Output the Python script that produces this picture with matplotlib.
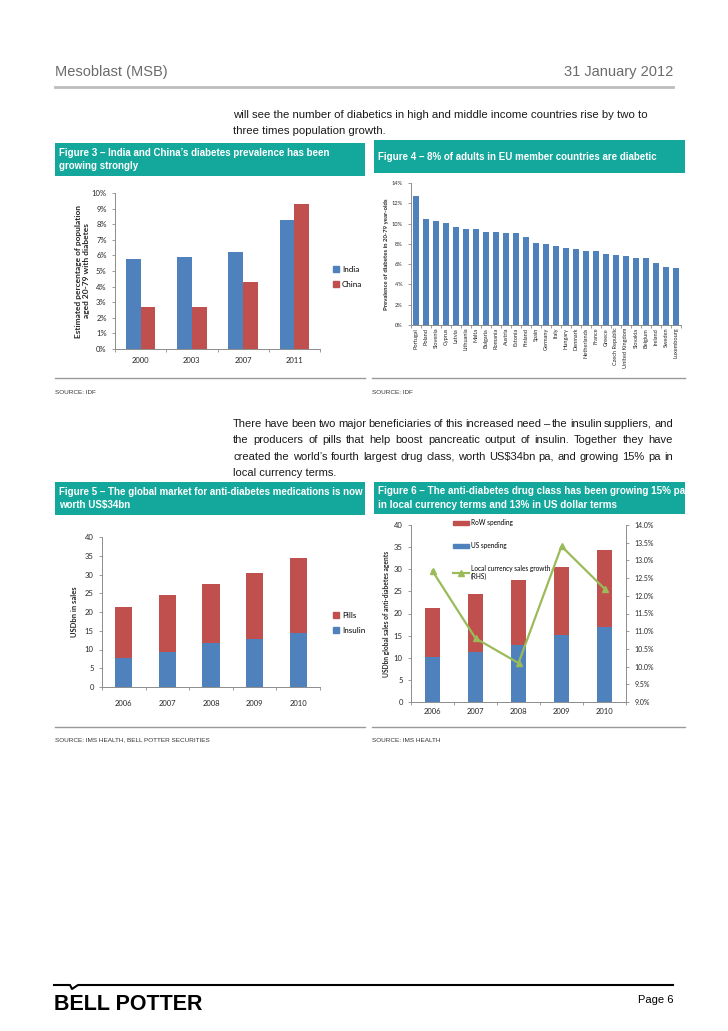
import numpy as np
import matplotlib.pyplot as plt
from matplotlib.patches import Rectangle, Patch
from matplotlib.lines import Line2D

W, H = 728, 1031

# Figure 3 - India / China prevalence (%)
F3_YEARS = ["2000", "2003", "2007", "2011"]
F3_INDIA = [5.8, 5.9, 6.2, 8.3]
F3_CHINA = [2.7, 2.7, 4.3, 9.3]

# Figure 4 - EU prevalence (%)
F4_COUNTRIES = ["Portugal", "Poland", "Slovenia", "Cyprus", "Latvia", "Lithuania", "Malta",
                "Bulgaria", "Romania", "Austria", "Estonia", "Finland", "Spain", "Germany",
                "Italy", "Hungary", "Denmark", "Netherlands", "France", "Greece",
                "Czech Republic", "United Kingdom", "Slovakia", "Belgium", "Ireland",
                "Sweden", "Luxembourg"]
F4_PREV = [12.7, 10.5, 10.3, 10.1, 9.7, 9.5, 9.5, 9.2, 9.2, 9.1, 9.1, 8.7, 8.1, 8.0,
           7.8, 7.6, 7.5, 7.3, 7.3, 7.0, 6.9, 6.8, 6.6, 6.6, 6.1, 5.7, 5.6]

# Figure 5 - global market (USDbn)
F5_YEARS = ["2006", "2007", "2008", "2009", "2010"]
F5_INSULIN = [7.8, 9.4, 11.8, 12.9, 14.4]
F5_PILLS = [13.5, 15.1, 15.8, 17.5, 20.0]

# Figure 6 - US vs RoW spending (USDbn) and growth (%)
F6_YEARS = ["2006", "2007", "2008", "2009", "2010"]
F6_US = [10.1, 11.3, 12.9, 15.1, 16.9]
F6_ROW = [11.2, 13.1, 14.7, 15.3, 17.5]
F6_GROWTH = [12.7, 10.8, 10.1, 13.4, 12.2]

BLUE = "#4F81BD"
RED = "#C0504D"
GREEN = "#9BBB59"
TEAL = "#14A89C"
AXIS_GREY = "#8C8C8C"
TEXT = "#262626"
CHART_FONT = ["Lato", "DejaVu Sans"]

plt.rcParams["font.family"] = ["Liberation Sans", "DejaVu Sans"]

fig = plt.figure(figsize=(W / 100, H / 100), dpi=100)
renderer = fig.canvas.get_renderer()

# full-page overlay, 1 data unit = 1 pixel
page = fig.add_axes([0, 0, 1, 1])
page.set_xlim(0, W)
page.set_ylim(H, 0)
page.axis("off")


def px_axes(x0, y0, x1, y1):
    return fig.add_axes([x0 / W, 1 - y1 / H, (x1 - x0) / W, (y1 - y0) / H])


def style_axes(ax, n_cats, xpad=4):
    for s in ["top", "right"]:
        ax.spines[s].set_visible(False)
    for s in ["left", "bottom"]:
        ax.spines[s].set_color(AXIS_GREY)
        ax.spines[s].set_linewidth(0.7)
    ax.patch.set_alpha(0)
    ax.tick_params(axis="both", which="both", colors=AXIS_GREY, labelcolor=TEXT,
                   labelsize=5.5, width=0.6, length=2.5)
    ax.tick_params(axis="x", which="major", length=0, pad=xpad)
    ax.set_xticks(np.arange(n_cats + 1) - 0.5, minor=True)
    ax.set_xlim(-0.5, n_cats - 0.5)
    for lab in ax.get_yticklabels() + ax.get_xticklabels():
        lab.set_family(CHART_FONT)


def fig_header(x0, y0, x1, y1, text, target_w):
    page.add_patch(Rectangle((x0, y0), x1 - x0, y1 - y0, color=TEAL, lw=0))
    t = page.text(x0 + 4, (y0 + y1) / 2, text, color="white", fontsize=7.3, fontweight="bold",
                  va="center", ha="left", linespacing=1.45)
    w = t.get_window_extent(renderer).width
    t.set_fontsize(7.3 * target_w / w)


def justify_line(y, line, x0, x1, **kw):
    words = line.split()
    texts = [page.text(x0, y, w, **kw) for w in words]
    widths = [t.get_window_extent(renderer).width for t in texts]
    gap = (x1 - x0 - sum(widths)) / (len(words) - 1)
    x = x0
    for t, w in zip(texts, widths):
        t.set_x(x)
        x += w + gap


# ---- page header ----
page.text(55, 72, "Mesoblast (MSB)", fontsize=10.5, color="#6b6b6b", va="center")
page.text(673, 72, "31 January 2012", fontsize=10.5, color="#6b6b6b", va="center", ha="right")
page.plot([55, 673], [87, 87], color="#bdbdbd", lw=2)

body = dict(fontsize=8.2, color="#1a1a1a", va="center", ha="left")
page.text(233, 115, "will see the number of diabetics in high and middle income countries rise by two to", **body)
page.text(233, 131, "three times population growth.", **body)

para2 = ["There have been two major beneficiaries of this increased need \u2013 the insulin suppliers, and",
         "the producers of pills that help boost pancreatic output of insulin. Together they have",
         "created the world\u2019s fourth largest drug class, worth US$34bn pa, and growing 15% pa in",
         "local currency terms."]
body2 = dict(body, fontsize=8.0)
for i, line in enumerate(para2):
    y = 424 + i * 16.3
    if i < len(para2) - 1:
        justify_line(y, line, 233, 673, **body2)
    else:
        page.text(233, y, line, **body2)

# ---- figure headers ----
fig_header(55, 143, 365, 176, "Figure 3 \u2013 India and China\u2019s diabetes prevalence has been\ngrowing strongly", 272)
fig_header(374, 140, 685, 173, "Figure 4 \u2013 8% of adults in EU member countries are diabetic", 278)
fig_header(55, 482, 365, 515, "Figure 5 \u2013 The global market for anti-diabetes medications is now\nworth US$34bn", 304)
fig_header(374, 482, 685, 514, "Figure 6 \u2013 The anti-diabetes drug class has been growing 15% pa\nin local currency terms and 13% in US dollar terms", 306)

# separators and sources
for y in [378, 727]:
    page.plot([55, 365], [y, y], color="#9a9a9a", lw=1)
    page.plot([372, 685], [y, y], color="#9a9a9a", lw=1)
src = dict(fontsize=4.6, color="#333333", va="center", ha="left",
           family=["Liberation Sans Narrow", "Liberation Sans"])
page.text(55, 392, "SOURCE: IDF", **src)
page.text(372, 392, "SOURCE: IDF", **src)
page.text(55, 740, "SOURCE: IMS HEALTH, BELL POTTER SECURITIES", **src)
page.text(372, 740, "SOURCE: IMS HEALTH", **src)

# ---- footer ----
page.plot([54, 70, 72, 78, 673], [985, 985, 989, 985, 985], color="black", lw=1.5)
page.text(54, 1004, "BELL POTTER", fontsize=15.5, fontweight="bold", color="black", va="center",
          ha="left")
page.text(673, 1000, "Page 6", fontsize=8, color="black", va="center", ha="right",
          family=["Liberation Sans Narrow", "Liberation Sans"])

# ---- Figure 3 ----
ax3 = px_axes(115, 193, 320, 349)
x3 = np.arange(len(F3_YEARS))
ax3.bar(x3 - 0.145, F3_INDIA, width=0.29, color=BLUE, label="India")
ax3.bar(x3 + 0.145, F3_CHINA, width=0.29, color=RED, label="China")
ax3.set_ylim(0, 10)
ax3.set_yticks(np.arange(0, 11, 1))
ax3.set_yticklabels([f"{v}%" for v in range(0, 11)])
ax3.set_xticks(x3)
ax3.set_xticklabels(F3_YEARS)
style_axes(ax3, len(F3_YEARS), xpad=6)
ax3.set_ylabel("Estimated percentage of population\naged 20-79 with diabetes", fontsize=6,
               fontweight="bold", color=TEXT, labelpad=1, family=CHART_FONT)
fig.legend(handles=[Patch(color=BLUE, label="India"), Patch(color=RED, label="China")],
           loc="upper left", bbox_to_anchor=(329 / W, 1 - 262 / H), frameon=False,
           handlelength=0.8, handleheight=0.8, handletextpad=0.3,
           labelspacing=1.0, borderpad=0, prop={"family": CHART_FONT, "size": 5.8})

# ---- Figure 4 ----
ax4 = px_axes(411, 183, 681, 325)
x4 = np.arange(len(F4_COUNTRIES))
ax4.bar(x4, F4_PREV, width=0.55, color=BLUE)
ax4.set_ylim(0, 14)
ax4.set_yticks(np.arange(0, 15, 2))
ax4.set_yticklabels([f"{v}%" for v in range(0, 15, 2)])
ax4.set_xticks(x4)
ax4.set_xticklabels(F4_COUNTRIES, rotation=90)
style_axes(ax4, len(F4_COUNTRIES))
ax4.tick_params(axis="both", labelsize=4.1)
ax4.tick_params(axis="x", pad=2)
ax4.set_ylabel("Prevalence of diabetes in 20-79 year-olds", fontsize=4.3, fontweight="bold",
               color=TEXT, labelpad=1.5, family=CHART_FONT)

# ---- Figure 5 ----
ax5 = px_axes(102, 537, 320, 687)
x5 = np.arange(len(F5_YEARS))
ax5.bar(x5, F5_INSULIN, width=0.39, color=BLUE)
ax5.bar(x5, F5_PILLS, width=0.39, bottom=F5_INSULIN, color=RED)
ax5.set_ylim(0, 40)
ax5.set_yticks(np.arange(0, 41, 5))
ax5.set_xticks(x5)
ax5.set_xticklabels(F5_YEARS)
style_axes(ax5, len(F5_YEARS), xpad=9)
ax5.set_ylabel("USDbn in sales", fontsize=5.5, fontweight="bold", color=TEXT, labelpad=5,
               family=CHART_FONT)
fig.legend(handles=[Patch(color=RED, label="Pills"), Patch(color=BLUE, label="Insulin")],
           loc="upper left", bbox_to_anchor=(329 / W, 1 - 608 / H), frameon=False,
           handlelength=0.8, handleheight=0.8, handletextpad=0.3,
           labelspacing=1.0, borderpad=0, prop={"family": CHART_FONT, "size": 5.8})

# ---- Figure 6 ----
ax6 = px_axes(411, 525, 626, 702)
x6 = np.arange(len(F6_YEARS))
ax6.bar(x6, F6_US, width=0.37, color=BLUE, zorder=2)
ax6.bar(x6, F6_ROW, width=0.37, bottom=F6_US, color=RED, zorder=2)
ax6.set_ylim(0, 40)
ax6.set_yticks(np.arange(0, 41, 5))
ax6.set_xticks(x6)
ax6.set_xticklabels(F6_YEARS)
style_axes(ax6, len(F6_YEARS))
ax6.set_ylabel("USDbn global sales of anti-diabetes agents", fontsize=4.8, fontweight="bold",
               color=TEXT, labelpad=3, family=CHART_FONT)

ax6r = ax6.twinx()
ax6r.plot(x6, F6_GROWTH, color=GREEN, lw=1.6, marker="^", markersize=4.5, zorder=3)
ax6r.set_ylim(9.0, 14.0)
ax6r.set_yticks(np.arange(9.0, 14.01, 0.5))
ax6r.set_yticklabels([f"{v:.1f}%" for v in np.arange(9.0, 14.01, 0.5)])
for s in ["top", "left", "bottom"]:
    ax6r.spines[s].set_visible(False)
ax6r.spines["right"].set_color(AXIS_GREY)
ax6r.spines["right"].set_linewidth(0.7)
ax6r.tick_params(axis="y", colors=AXIS_GREY, labelcolor=TEXT, labelsize=5, width=0.6, length=2.5)
for lab in ax6r.get_yticklabels():
    lab.set_family(CHART_FONT)

fig.legend(handles=[Patch(color=RED, label="RoW spending"),
                    Patch(color=BLUE, label="US spending"),
                    Line2D([], [], color=GREEN, lw=1.6, marker="^", markersize=4,
                           label="Local currency sales growth\n(RHS)")],
           loc="upper left", bbox_to_anchor=(450 / W, 1 - 516 / H), frameon=False,
           handlelength=2.4, handleheight=0.6, handletextpad=0.3,
           labelspacing=2.4, borderpad=0, prop={"family": CHART_FONT, "size": 4.7})

fig.savefig("out.png", dpi=100)
